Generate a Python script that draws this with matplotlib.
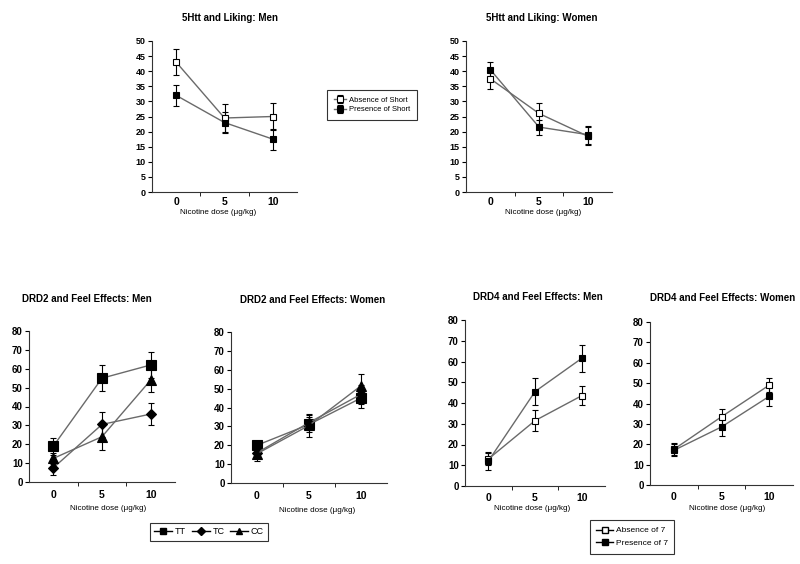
import matplotlib
matplotlib.use("Agg")
import matplotlib.pyplot as plt
import numpy as np

plt.rcParams['font.family'] = ['Liberation Sans', 'DejaVu Sans']

dose = [0, 5, 10]

# 5Htt and liking
htt_men_abs = [43, 24.5, 25]
htt_men_abs_err = [4.3, 4.5, 4.5]
htt_men_pres = [32, 23, 17.5]
htt_men_pres_err = [3.5, 3.5, 3.5]
htt_wom_abs = [37.5, 26, 18.5]
htt_wom_abs_err = [3.5, 3.5, 3]
htt_wom_pres = [40.5, 21.5, 19]
htt_wom_pres_err = [2.5, 2.5, 3]

# DRD2 and feel effects
drd2_men_tt = [19, 55, 62]
drd2_men_tt_err = [4.5, 7, 7]
drd2_men_tc = [7.5, 30.5, 36]
drd2_men_tc_err = [4, 6.5, 6]
drd2_men_cc = [12.5, 24, 54]
drd2_men_cc_err = [3, 7, 6.5]
drd2_wom_tt = [20, 31, 45]
drd2_wom_tt_err = [2.5, 4, 5]
drd2_wom_tc = [16, 32, 47]
drd2_wom_tc_err = [3, 4, 5]
drd2_wom_cc = [15.5, 30.5, 51.5]
drd2_wom_cc_err = [4, 6, 6.5]

# DRD4 and feel effects
drd4_men_abs = [13, 31.5, 43.5]
drd4_men_abs_err = [3, 5, 4.5]
drd4_men_pres = [12, 45.5, 61.5]
drd4_men_pres_err = [4.5, 6.5, 6.5]
drd4_wom_abs = [17.5, 33.5, 49]
drd4_wom_abs_err = [3, 4, 3.5]
drd4_wom_pres = [17, 28.5, 43.5]
drd4_wom_pres_err = [3, 4.5, 4.5]

W, H = 800, 564
fig = plt.figure(figsize=(8, 5.64), dpi=100)


def px_axes(x0, x1, ytop, ybot):
    return fig.add_axes([x0 / W, 1 - ybot / H, (x1 - x0) / W, (ybot - ytop) / H])


def series(ax, y, err, marker, fill, ms, label):
    ax.errorbar(dose, y, yerr=err, color='#6a6a6a', lw=1, marker=marker, ms=ms,
                mfc='black' if fill else 'white', mec='black', mew=0.8,
                ecolor='black', elinewidth=0.8, capsize=2, capthick=0.8,
                label=label, zorder=3)


def style(ax, ymax, ystep, fs, xpad):
    ax.set_xlim(-2.5, 12.5)
    ax.set_ylim(0, ymax)
    ax.set_yticks(np.arange(0, ymax + 1, ystep))
    ax.set_xticks(dose)
    ax.set_xticks([2.5, 7.5], minor=True)
    ax.tick_params(axis='x', which='major', length=0, pad=xpad, labelsize=7.5)
    ax.tick_params(axis='x', which='minor', length=3, direction='out')
    ax.tick_params(axis='y', length=3, direction='out', pad=1.5, labelsize=fs)
    for lab in ax.get_xticklabels() + ax.get_yticklabels():
        lab.set_fontweight('bold')
    for s in ['top', 'right']:
        ax.spines[s].set_visible(False)
    for s in ['left', 'bottom']:
        ax.spines[s].set_linewidth(0.8)
        ax.spines[s].set_color('#333333')


def label(x, y, text, bold):
    fig.text(x / W, 1 - y / H, text, ha='center', va='center',
             fontsize=7 if bold else 5.8, fontweight='bold' if bold else 'normal')


# top row
ax1 = px_axes(152, 297, 41, 192)
series(ax1, htt_men_abs, htt_men_abs_err, 's', False, 4.5, 'Absence of Short')
series(ax1, htt_men_pres, htt_men_pres_err, 's', True, 4.5, 'Presence of Short')
style(ax1, 50, 5, 6.5, 3.5)
label(230, 18, '5Htt and Liking: Men', True)
label(218, 213, 'Nicotine dose (\u03bcg/kg)', False)

ax2 = px_axes(466, 612, 41, 192)
series(ax2, htt_wom_abs, htt_wom_abs_err, 's', False, 4.5, 'Absence of Short')
series(ax2, htt_wom_pres, htt_wom_pres_err, 's', True, 4.5, 'Presence of Short')
style(ax2, 50, 5, 6.5, 3.5)
label(542, 18, '5Htt and Liking: Women', True)
label(543, 213, 'Nicotine dose (\u03bcg/kg)', False)

h, l = ax1.get_legend_handles_labels()
fig.legend(h, l, loc='center', bbox_to_anchor=(372 / W, 1 - 105 / H), fontsize=5.5,
           frameon=True, fancybox=False, edgecolor='black', handlelength=1.6,
           handletextpad=0.4, borderpad=0.9,
           labelspacing=0.3).get_frame().set_linewidth(0.8)

# DRD2
ax3 = px_axes(29, 175, 331, 482)
series(ax3, drd2_men_tt, drd2_men_tt_err, 's', True, 6.5, 'TT')
series(ax3, drd2_men_tc, drd2_men_tc_err, 'D', True, 5.5, 'TC')
series(ax3, drd2_men_cc, drd2_men_cc_err, '^', True, 6.5, 'CC')
style(ax3, 80, 10, 7, 6)
label(87, 299, 'DRD2 and Feel Effects: Men', True)
label(108, 508, 'Nicotine dose (\u03bcg/kg)', False)

ax4 = px_axes(231, 387, 332, 483)
series(ax4, drd2_wom_tt, drd2_wom_tt_err, 's', True, 6.5, 'TT')
series(ax4, drd2_wom_tc, drd2_wom_tc_err, 'D', True, 5.5, 'TC')
series(ax4, drd2_wom_cc, drd2_wom_cc_err, '^', True, 6.5, 'CC')
style(ax4, 80, 10, 7, 6)
label(313, 300, 'DRD2 and Feel Effects: Women', True)
label(317, 510, 'Nicotine dose (\u03bcg/kg)', False)

l = ['TT', 'TC', 'CC']
h = [plt.Line2D([], [], color='black', lw=1, marker=m, mfc='black', mec='black', ms=4)
     for m in ['s', 'D', '^']]
fig.legend(h, l, loc='center', bbox_to_anchor=(209 / W, 1 - 532 / H), fontsize=6.5,
           ncol=3, frameon=True, fancybox=False, edgecolor='black', handlelength=2,
           columnspacing=0.6, handletextpad=0.3,
           borderpad=0.5).get_frame().set_linewidth(0.8)

# DRD4
ax5 = px_axes(465, 605, 320, 486)
series(ax5, drd4_men_abs, drd4_men_abs_err, 's', False, 5, 'Absence of 7')
series(ax5, drd4_men_pres, drd4_men_pres_err, 's', True, 5, 'Presence of 7')
style(ax5, 80, 10, 7, 5)
label(538, 297, 'DRD4 and Feel Effects: Men', True)
label(532, 509, 'Nicotine dose (\u03bcg/kg)', False)

ax6 = px_axes(650, 793, 322, 485)
series(ax6, drd4_wom_abs, drd4_wom_abs_err, 's', False, 5, 'Absence of 7')
series(ax6, drd4_wom_pres, drd4_wom_pres_err, 's', True, 5, 'Presence of 7')
style(ax6, 80, 10, 7, 5)
label(723, 298, 'DRD4 and Feel Effects: Women', True)
label(727, 508, 'Nicotine dose (\u03bcg/kg)', False)

h = [plt.Line2D([], [], color='black', lw=1, marker='s', mfc=f, mec='black', ms=4)
     for f in ['white', 'black']]
fig.legend(h, ['Absence of 7', 'Presence of 7'], loc='center',
           bbox_to_anchor=(632 / W, 1 - 537 / H), fontsize=6, frameon=True,
           fancybox=False, edgecolor='black', handlelength=2, handletextpad=0.3,
           borderpad=0.8, labelspacing=0.6).get_frame().set_linewidth(0.8)

fig.savefig('out.png', dpi=100, facecolor='white')
